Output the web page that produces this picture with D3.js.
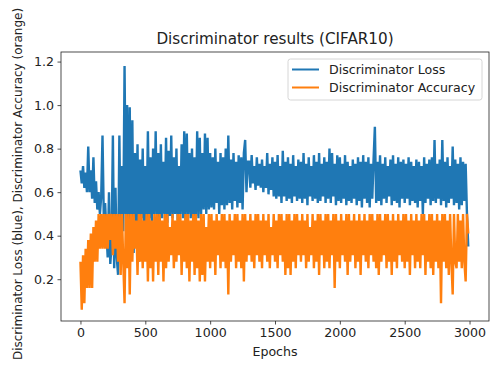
<!DOCTYPE html>
<html>
<head>
<meta charset="utf-8">
<script src="https://cdn.jsdelivr.net/npm/d3@7"></script>
<style>
  body { margin: 0; background: #fff; }
  text { font-family: "DejaVu Sans", sans-serif; fill: #222; }
</style>
</head>
<body>
<div id="chart"></div>
<script>
// set the dimensions and margins of the graph
var width = 490,
    height = 366,
    margin = {top: 52, right: 1, bottom: 45, left: 61}

// one value every 10 epochs
var epochStep = 10

// discriminator loss (blue), 10 values per 100 epochs
var lossValues = [
  0.70,0.64,0.72,0.62,0.69,0.60,0.81,0.60,0.70,0.57,
  0.76,0.55,0.65,0.52,0.60,0.50,0.58,0.86,0.48,0.55,
  0.42,0.30,0.60,0.27,0.36,0.86,0.25,0.62,0.30,0.22,
  0.86,0.36,0.72,0.42,1.18,0.50,1.00,0.40,0.99,0.30,
  0.93,0.32,0.78,0.45,0.82,0.28,0.75,0.48,0.80,0.42,
  0.72,0.46,0.88,0.48,0.76,0.45,0.80,0.50,0.88,0.47,
  0.78,0.46,0.82,0.48,0.74,0.50,0.85,0.46,0.79,0.49,
  0.86,0.48,0.76,0.50,0.80,0.47,0.72,0.50,0.82,0.48,
  0.88,0.47,0.87,0.50,0.78,0.48,0.80,0.46,0.76,0.49,
  0.88,0.48,0.85,0.50,0.78,0.52,0.87,0.50,0.85,0.52,
  0.78,0.53,0.76,0.52,0.80,0.55,0.74,0.50,0.78,0.54,
  0.76,0.52,0.80,0.54,0.86,0.55,0.75,0.52,0.78,0.56,
  0.74,0.53,0.77,0.55,0.76,0.52,0.78,0.84,0.60,0.74,
  0.74,0.62,0.77,0.64,0.72,0.61,0.76,0.63,0.73,0.62,
  0.75,0.60,0.72,0.62,0.78,0.59,0.73,0.61,0.76,0.58,
  0.74,0.57,0.77,0.58,0.72,0.55,0.79,0.58,0.74,0.56,
  0.76,0.57,0.73,0.55,0.77,0.58,0.72,0.56,0.75,0.57,
  0.74,0.55,0.78,0.57,0.73,0.54,0.76,0.58,0.72,0.56,
  0.77,0.57,0.74,0.55,0.78,0.56,0.73,0.58,0.76,0.55,
  0.74,0.57,0.80,0.55,0.78,0.58,0.73,0.54,0.77,0.56,
  0.76,0.55,0.73,0.57,0.77,0.54,0.74,0.56,0.72,0.55,
  0.75,0.57,0.73,0.54,0.76,0.56,0.74,0.53,0.77,0.57,
  0.74,0.55,0.76,0.53,0.73,0.57,0.75,0.90,0.55,0.74,
  0.56,0.77,0.54,0.73,0.57,0.76,0.55,0.72,0.58,0.75,
  0.54,0.77,0.56,0.73,0.55,0.76,0.53,0.74,0.57,0.75,
  0.55,0.73,0.57,0.76,0.54,0.74,0.56,0.72,0.55,0.75,
  0.53,0.74,0.56,0.72,0.50,0.76,0.55,0.73,0.57,0.75,
  0.54,0.76,0.56,0.84,0.55,0.73,0.57,0.75,0.54,0.84,
  0.56,0.74,0.53,0.76,0.55,0.72,0.57,0.81,0.54,0.75,
  0.55,0.73,0.52,0.76,0.54,0.74,0.56,0.73,0.50,0.35
]

// discriminator accuracy (orange)
var accValues = [
  0.28,0.06,0.31,0.09,0.34,0.16,0.38,0.16,0.41,0.16,
  0.44,0.28,0.47,0.28,0.50,0.34,0.50,0.34,0.50,0.34,
  0.50,0.34,0.50,0.38,0.50,0.31,0.50,0.34,0.50,0.28,
  0.50,0.22,0.50,0.28,0.09,0.50,0.25,0.50,0.13,0.50,
  0.28,0.50,0.34,0.47,0.22,0.50,0.28,0.50,0.25,0.47,
  0.28,0.50,0.19,0.50,0.25,0.47,0.19,0.50,0.28,0.50,
  0.22,0.50,0.28,0.47,0.19,0.50,0.25,0.50,0.28,0.44,
  0.31,0.50,0.25,0.47,0.28,0.50,0.31,0.50,0.22,0.47,
  0.28,0.50,0.25,0.50,0.19,0.47,0.28,0.50,0.22,0.50,
  0.25,0.47,0.19,0.50,0.22,0.50,0.19,0.44,0.28,0.50,
  0.25,0.50,0.28,0.47,0.22,0.50,0.31,0.47,0.25,0.50,
  0.28,0.50,0.25,0.47,0.13,0.50,0.28,0.47,0.31,0.50,
  0.25,0.50,0.28,0.47,0.25,0.50,0.19,0.50,0.28,0.47,
  0.31,0.50,0.28,0.47,0.25,0.50,0.31,0.50,0.28,0.47,
  0.25,0.50,0.31,0.47,0.28,0.50,0.25,0.44,0.31,0.50,
  0.28,0.47,0.25,0.50,0.31,0.50,0.28,0.47,0.22,0.50,
  0.25,0.50,0.22,0.47,0.28,0.50,0.25,0.50,0.31,0.47,
  0.28,0.50,0.31,0.47,0.25,0.50,0.28,0.44,0.31,0.50,
  0.25,0.47,0.28,0.50,0.22,0.50,0.31,0.47,0.25,0.50,
  0.28,0.50,0.25,0.47,0.31,0.50,0.16,0.50,0.28,0.47,
  0.25,0.50,0.31,0.47,0.28,0.50,0.22,0.50,0.28,0.47,
  0.31,0.50,0.25,0.47,0.28,0.50,0.22,0.47,0.31,0.50,
  0.28,0.47,0.25,0.50,0.31,0.50,0.28,0.47,0.25,0.50,
  0.22,0.50,0.28,0.47,0.31,0.50,0.25,0.50,0.28,0.47,
  0.22,0.50,0.28,0.47,0.25,0.50,0.31,0.47,0.28,0.50,
  0.25,0.50,0.28,0.47,0.22,0.50,0.31,0.47,0.25,0.50,
  0.28,0.47,0.25,0.50,0.31,0.50,0.22,0.47,0.28,0.50,
  0.25,0.50,0.22,0.47,0.28,0.50,0.25,0.47,0.09,0.50,
  0.28,0.50,0.25,0.47,0.22,0.50,0.28,0.13,0.50,0.28,
  0.25,0.50,0.28,0.47,0.25,0.50,0.28,0.19,0.50,0.41
]

var xTicks = [0, 500, 1000, 1500, 2000, 2500, 3000]
var yTicks = [0.2, 0.4, 0.6, 0.8, 1.0, 1.2]
var seriesNames = ["Discriminator Loss", "Discriminator Accuracy"]
var seriesColors = ["#1f77b4", "#ff7f0e"]

var svg = d3.select("#chart")
  .append("svg")
  .attr("width", width)
  .attr("height", height)

var plotW = width - margin.left - margin.right
var plotH = height - margin.top - margin.bottom

var x = d3.scaleLinear()
  .domain([-150, 3150])
  .range([margin.left, margin.left + plotW])

var y = d3.scaleLinear()
  .domain([0.008, 1.244])
  .range([margin.top + plotH, margin.top])

var line = d3.line()
  .x(function(d, i) { return x(i * epochStep) })
  .y(function(d) { return y(d) })

// clip so nothing leaves the axes box
svg.append("clipPath").attr("id", "clip")
  .append("rect")
  .attr("x", margin.left).attr("y", margin.top)
  .attr("width", plotW).attr("height", plotH)

var plot = svg.append("g").attr("clip-path", "url(#clip)")

;[lossValues, accValues].forEach(function(vals, k) {
  plot.append("path")
    .datum(vals)
    .attr("d", line)
    .attr("fill", "none")
    .attr("stroke", seriesColors[k])
    .attr("stroke-width", 2.4)
    .attr("stroke-linejoin", "miter")
    .attr("stroke-miterlimit", 2)
})

// axes
var xAxis = svg.append("g")
  .attr("transform", "translate(0," + (margin.top + plotH) + ")")
  .call(d3.axisBottom(x).tickValues(xTicks).tickSize(3.5).tickPadding(3.5).tickFormat(d3.format("d")))

var yAxis = svg.append("g")
  .attr("transform", "translate(" + margin.left + ",0)")
  .call(d3.axisLeft(y).tickValues(yTicks).tickSize(3.5).tickPadding(3.5).tickFormat(d3.format(".1f")))

;[xAxis, yAxis].forEach(function(a) {
  a.select(".domain").remove()
  a.selectAll("line").attr("stroke", "#222").attr("stroke-width", 0.8)
  a.selectAll("text").style("font-size", "12.6px").style("font-family", "DejaVu Sans").attr("fill", "#222")
})

// frame
svg.append("rect")
  .attr("x", margin.left).attr("y", margin.top)
  .attr("width", plotW).attr("height", plotH)
  .attr("fill", "none")
  .attr("stroke", "#222")
  .attr("stroke-width", 0.8)

// title and labels
svg.append("text")
  .attr("x", margin.left + plotW / 2)
  .attr("y", 44)
  .attr("text-anchor", "middle")
  .style("font-size", "15.2px")
  .text("Discriminator results (CIFAR10)")

svg.append("text")
  .attr("x", margin.left + plotW / 2)
  .attr("y", 356)
  .attr("text-anchor", "middle")
  .style("font-size", "12.6px")
  .text("Epochs")

// long label: sized so it just fits the window height
svg.append("text")
  .attr("transform", "translate(22,184) rotate(-90)")
  .attr("text-anchor", "middle")
  .style("font-size", "12px")
  .text("Discriminator Loss (blue), Discriminator Accuracy (orange)")

// legend
var legend = svg.append("g")
legend.append("rect")
  .attr("x", 288).attr("y", 59)
  .attr("width", 194).attr("height", 41)
  .attr("rx", 2.5)
  .attr("fill", "#fff").attr("fill-opacity", 0.8)
  .attr("stroke", "#ccc").attr("stroke-width", 0.8)

seriesNames.forEach(function(name, k) {
  var ly = 69.5 + k * 18
  legend.append("line")
    .attr("x1", 292).attr("x2", 319)
    .attr("y1", ly).attr("y2", ly)
    .attr("stroke", seriesColors[k])
    .attr("stroke-width", 2)
  legend.append("text")
    .attr("x", 329).attr("y", ly + 4.5)
    .style("font-size", "12.6px")
    .text(name)
})
</script>
</body>
</html>
